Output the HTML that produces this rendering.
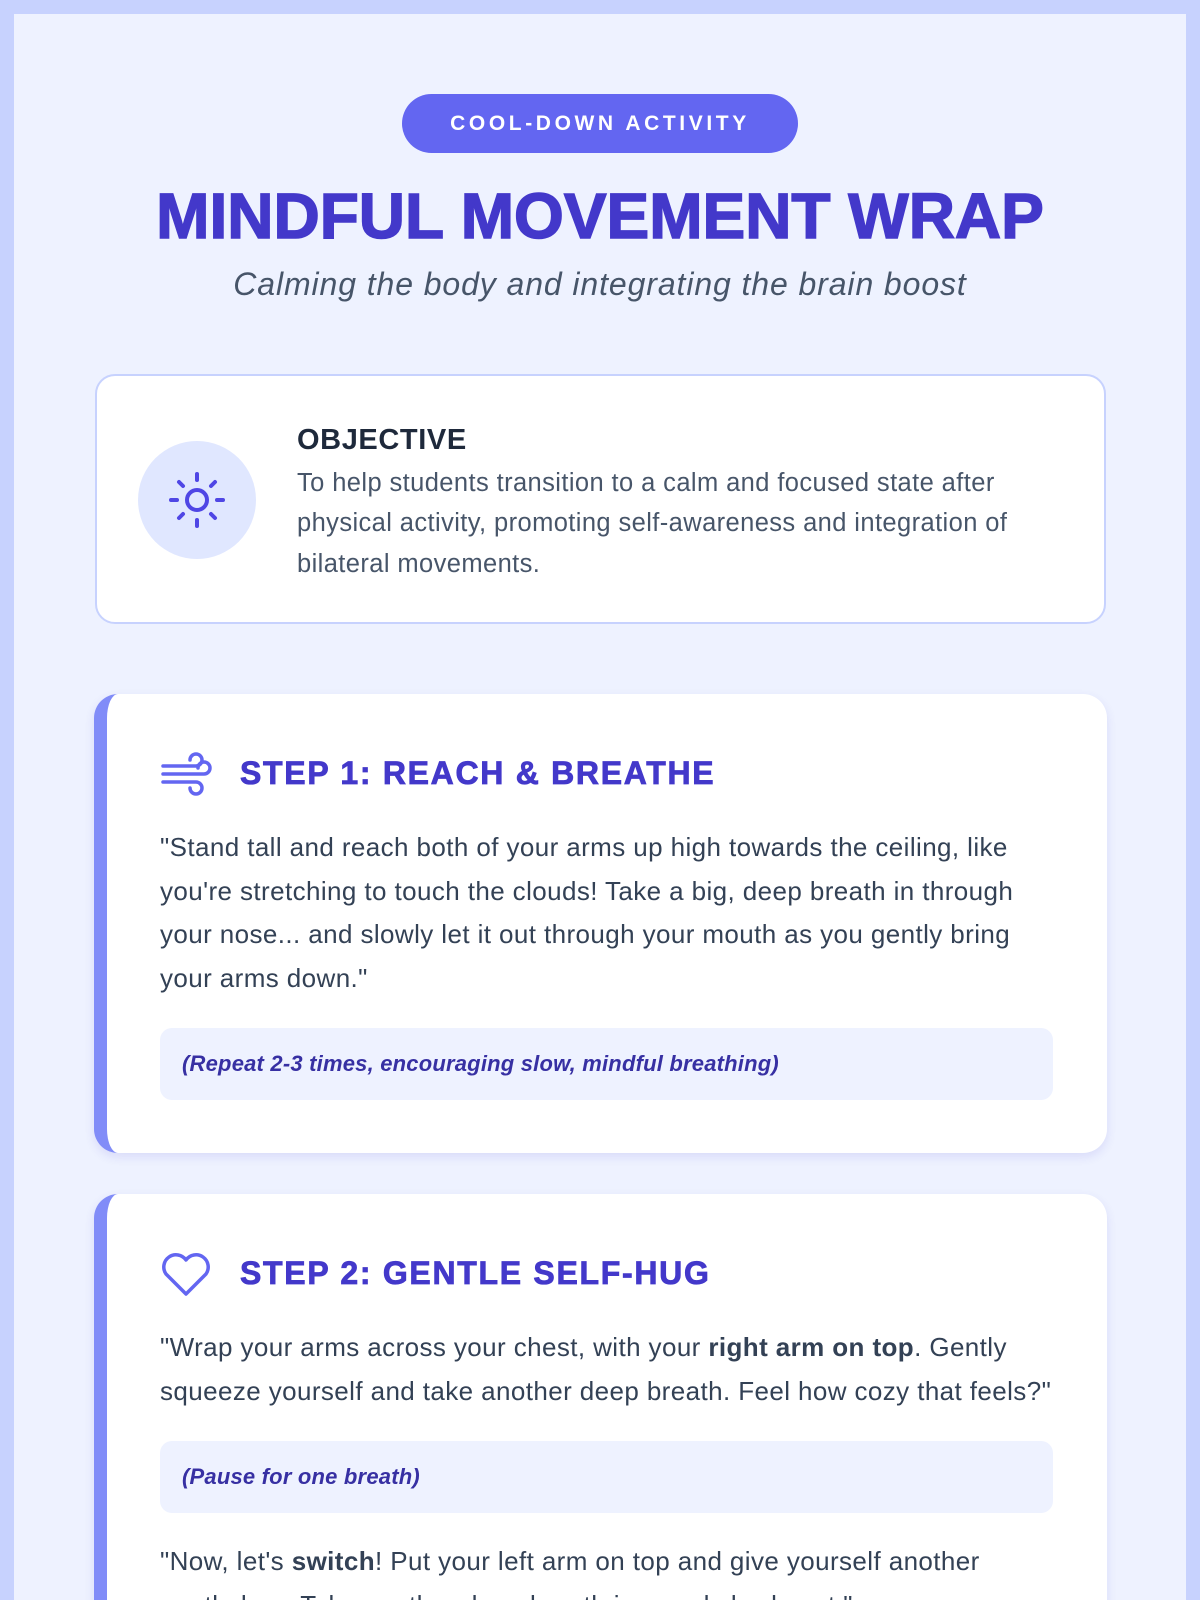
<!DOCTYPE html>
<html><head><meta charset="utf-8"><style>
*{margin:0;padding:0;box-sizing:border-box}
html,body{width:1200px;height:1600px;overflow:hidden}
body{background:#c7d2fe;font-family:"Liberation Sans",sans-serif;position:relative}
.inner{position:absolute;left:14px;top:14px;width:1172px;height:1600px;background:#eef2ff}
.abs{position:absolute}
.badge{left:402px;top:94px;width:396px;height:59px;border-radius:30px;background:#6366f1;color:#fff;font-weight:bold;font-size:21px;letter-spacing:3.6px;text-align:center;line-height:59px}
.title{left:0;width:1200px;top:180px;text-align:center;font-size:64px;font-weight:900;color:#4338ca;letter-spacing:0;line-height:72px;-webkit-text-stroke:1.5px #4338ca}
.sub{left:0;width:1200px;top:264px;text-align:center;font-size:32px;font-style:italic;color:#475569;line-height:40px;letter-spacing:0.9px}
.obj{left:95px;top:374px;width:1011px;height:250px;border:2px solid #c7d2fe;border-radius:20px;background:#fff}
.circle{left:138px;top:441px;width:118px;height:118px;border-radius:50%;background:#e0e7ff}
.card{left:94px;width:1013px;background:#fff;border-radius:24px;border-left:13px solid #818cf8;box-shadow:0 4px 10px rgba(67,56,202,0.12)}
.h{font-size:32px;font-weight:900;color:#4338ca;line-height:40px;letter-spacing:1.7px;-webkit-text-stroke:0.8px #4338ca}
.p{left:160px;width:880px;font-size:26px;color:#334155;line-height:43.5px;letter-spacing:0.4px}
.note{left:160px;width:893px;height:72px;background:#eef2ff;border-radius:12px;font-size:22px;font-weight:bold;font-style:italic;color:#3730a3;line-height:72px;padding-left:22px;letter-spacing:0.2px}
</style></head><body>
<div class="inner"></div>
<div class="abs badge">COOL-DOWN ACTIVITY</div>
<div class="abs title">MINDFUL MOVEMENT WRAP</div>
<div class="abs sub">Calming the body and integrating the brain boost</div>

<div class="abs obj"></div>
<div class="abs circle"></div>
<svg class="abs" style="left:167px;top:470px" width="60" height="60" viewBox="0 0 60 60" fill="none" stroke="#4f46e5" stroke-width="4" stroke-linecap="round">
<circle cx="30" cy="30" r="10"/>
<line x1="30" y1="4" x2="30" y2="10"/><line x1="30" y1="50" x2="30" y2="56"/>
<line x1="4" y1="30" x2="10" y2="30"/><line x1="50" y1="30" x2="56" y2="30"/>
<line x1="12" y1="12" x2="16" y2="16"/><line x1="44" y1="44" x2="48" y2="48"/>
<line x1="48" y1="12" x2="44" y2="16"/><line x1="16" y1="44" x2="12" y2="48"/>
</svg>
<div class="abs" style="left:297px;top:422px;font-size:29px;font-weight:bold;color:#1e293b;line-height:36px;letter-spacing:0.6px">OBJECTIVE</div>
<div class="abs" style="left:297px;top:463px;width:740px;font-size:25.5px;color:#475569;line-height:40.3px;letter-spacing:0.4px">To help students transition to a calm and focused state after physical activity, promoting self-awareness and integration of bilateral movements.</div>

<div class="abs card" style="top:694px;height:459px"></div>
<svg class="abs" style="left:160px;top:752px" width="54" height="44" viewBox="0 0 54 44" fill="none" stroke="#6366f1" stroke-width="3.5" stroke-linecap="round">
<path d="M3 14 H36 a6 6 0 1 0 -6 -6"/><path d="M3 22 H44 a6 6 0 1 0 -6 -6"/><path d="M3 30 H36 a6 6 0 1 1 -6 6"/>
</svg>
<div class="abs h" style="left:240px;top:753px">STEP 1: REACH &amp; BREATHE</div>
<div class="abs p" style="top:826px">"Stand tall and reach both of your arms up high towards the ceiling, like you're stretching to touch the clouds! Take a big, deep breath in through your nose... and slowly let it out through your mouth as you gently bring your arms down."</div>
<div class="abs note" style="top:1028px">(Repeat 2-3 times, encouraging slow, mindful breathing)</div>

<div class="abs card" style="top:1194px;height:500px"></div>
<svg class="abs" style="left:160px;top:1252px" width="52" height="46" viewBox="0 0 52 46" fill="none" stroke="#6366f1" stroke-width="3.5" stroke-linejoin="round">
<path d="M26 42 L6 22 A11 11 0 0 1 26 8 A11 11 0 0 1 46 22 Z"/>
</svg>
<div class="abs h" style="left:240px;top:1253px">STEP 2: GENTLE SELF-HUG</div>
<div class="abs p" style="top:1326px;width:905px">"Wrap your arms across your chest, with your <b>right arm on top</b>. Gently squeeze yourself and take another deep breath. Feel how cozy that feels?"</div>
<div class="abs note" style="top:1441px">(Pause for one breath)</div>
<div class="abs p" style="top:1540px">"Now, let's <b>switch</b>! Put your left arm on top and give yourself another gentle hug. Take another deep breath in... and slowly out."</div>
</body></html>
